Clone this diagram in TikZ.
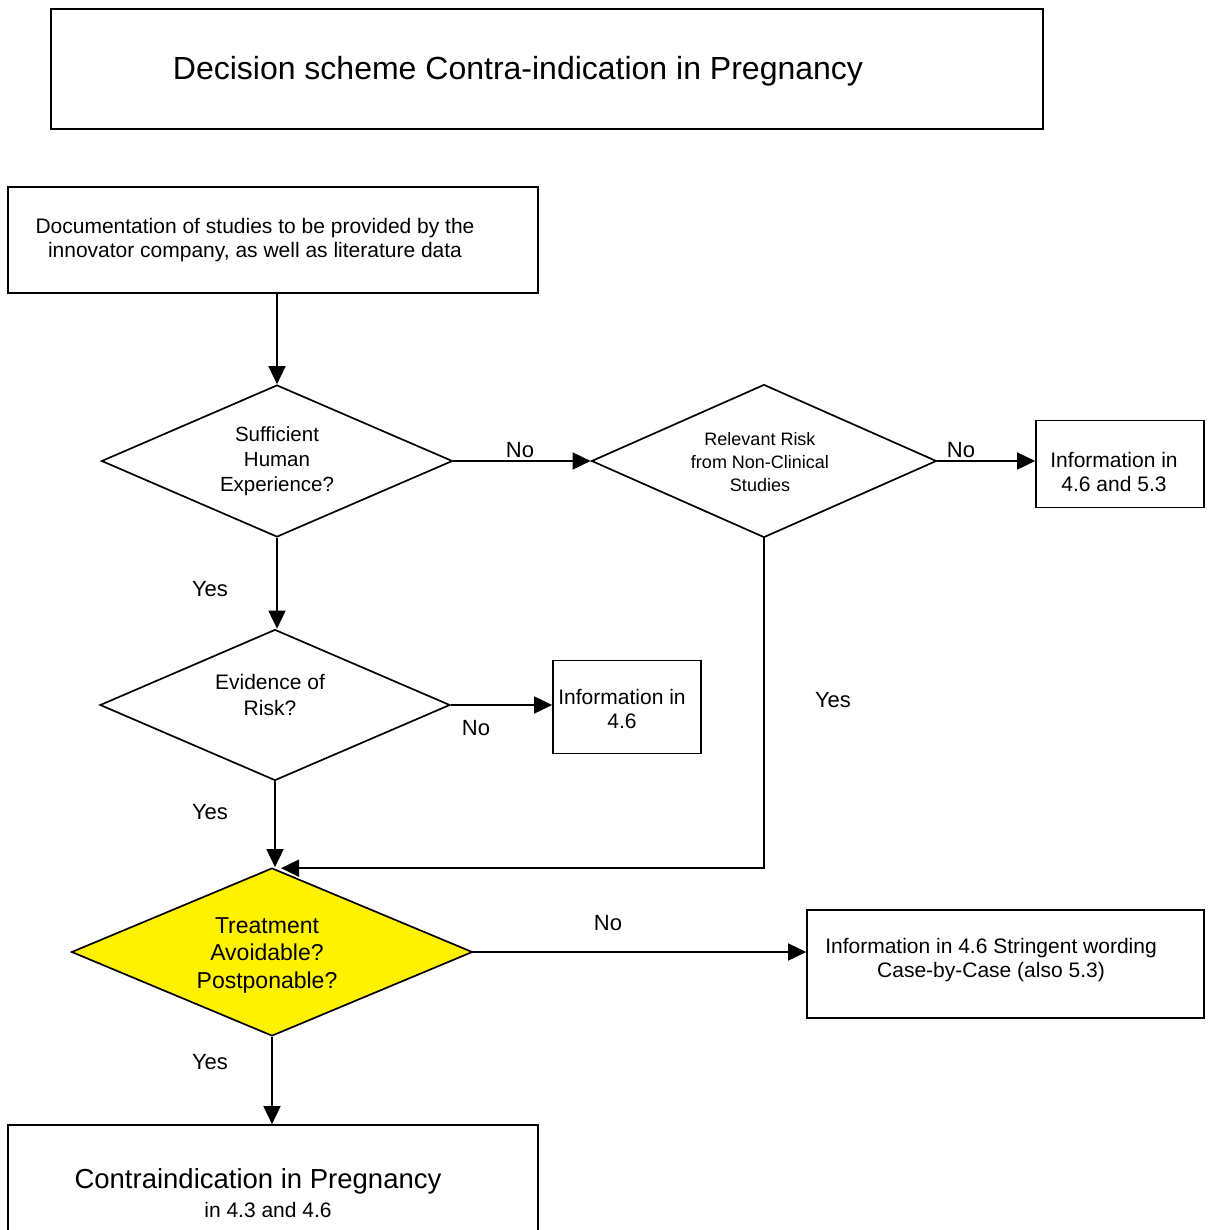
\documentclass[tikz,border=0pt]{standalone}
\usepackage{fontspec}
\setmainfont{Liberation Sans}
\usetikzlibrary{shapes.geometric,arrows.meta}
\begin{document}
\begin{tikzpicture}[x=1pt,y=-1pt,
  box/.style={draw,line width=1.7pt,rectangle,inner sep=0pt},
  dia/.style={draw,line width=1.7pt,diamond,inner sep=0pt},
  txt/.style={align=center,inner sep=0pt,font=\fontsize{21}{24}\selectfont},
  lab/.style={inner sep=0pt,font=\fontsize{22}{26}\selectfont},
  arr/.style={line width=1.7pt,-{Triangle[length=18pt,width=17pt]}},
  ln/.style={line width=1.7pt}]
\useasboundingbox[fill=white] (0,0) rectangle (1213,1230);

% title
\node[box,minimum width=992pt,minimum height=120pt] (title) at (547,69) {};
\node[inner sep=0pt,font=\fontsize{32}{36}\selectfont] (titletxt) at (518,71) {Decision scheme Contra-indication in Pregnancy};

% documentation box
\node[box,minimum width=530pt,minimum height=106pt] (doc) at (273,240) {};
\node[txt] (doctxt) at (255,240) {Documentation of studies to be provided by the\\innovator company, as well as literature data};

% diamond 1
\node[dia,minimum width=351pt,minimum height=152pt] (d1) at (277,461) {};
\node[txt,font=\fontsize{20.5}{25}\selectfont] (d1txt) at (277,461) {Sufficient\\Human\\Experience?};

% diamond 2
\node[dia,minimum width=345pt,minimum height=153pt] (d2) at (764,461) {};
\node[txt,font=\fontsize{18}{23}\selectfont] (d2txt) at (760,462) {Relevant Risk\\from Non-Clinical\\Studies};

% info box 1
\node[box,minimum width=168pt,minimum height=87pt] (info1) at (1120,464) {};
\node[txt] (info1txt) at (1114,472) {Information in\\4.6 and 5.3};

% diamond 3
\node[dia,minimum width=350pt,minimum height=151pt] (d3) at (275,705) {};
\node[txt,font=\fontsize{21}{26}\selectfont] (d3txt) at (270,695) {Evidence of\\Risk?};

% info box 2
\node[box,minimum width=148pt,minimum height=93pt] (info2) at (627,707) {};
\node[txt] (info2txt) at (622,709) {Information in\\4.6};

% yellow diamond
\node[dia,fill={rgb,255:red,255;green,242;blue,0},minimum width=401pt,minimum height=168pt] (d4) at (272,952) {};
\node[txt,font=\fontsize{23}{27.5}\selectfont] (d4txt) at (267,955) {Treatment\\Avoidable?\\Postponable?};

% info box 3
\node[box,minimum width=397pt,minimum height=108pt] (box3) at (1005.5,964) {};
\node[txt] (box3txt) at (991,960) {Information in 4.6 Stringent wording\\Case-by-Case (also 5.3)};

% final box (bottom cut off)
\node[box,minimum width=530pt,minimum height=130pt] (box4) at (273,1190) {};
\node[inner sep=0pt,font=\fontsize{27.5}{30}\selectfont] (box4txt) at (258,1181) {Contraindication in Pregnancy};
\node[inner sep=0pt,font=\fontsize{21}{24}\selectfont] (box4sub) at (268,1210) {in 4.3 and 4.6};

% connectors
\draw[arr] (d1.north |- doc.south) -- (d1.north);
\draw[arr] (d1.east) -- (d2.west);
\draw[arr] (d2.east) -- (d2.east -| info1.west);
\draw[arr] (d1.south) -- (d1.south |- d3.north);
\draw[arr] (d3.east) -- (d3.east -| info2.west);
\draw[arr] (d3.south) -- (d3.south |- d4.north);
\coordinate (corner) at (d2.south |- d4.north);
\draw[arr] (d2.south) -- ([yshift=-1pt]corner) -- ([xshift=9pt,yshift=-1pt]d4.north);
\draw[arr] (d4.east) -- (d4.east -| box3.west);
\draw[arr] (d4.south) -- (d4.south |- box4.north);

% labels
\node[lab] (no1) at (520,450) {No};
\node[lab] (no2) at (961,450) {No};
\node[lab] (yes1) at (210,589) {Yes};
\node[lab] (no3) at (476,728) {No};
\node[lab] (yes2) at (833,700) {Yes};
\node[lab] (yes3) at (210,812) {Yes};
\node[lab] (no4) at (608,923) {No};
\node[lab] (yes4) at (210,1062) {Yes};
\end{tikzpicture}
\end{document}
